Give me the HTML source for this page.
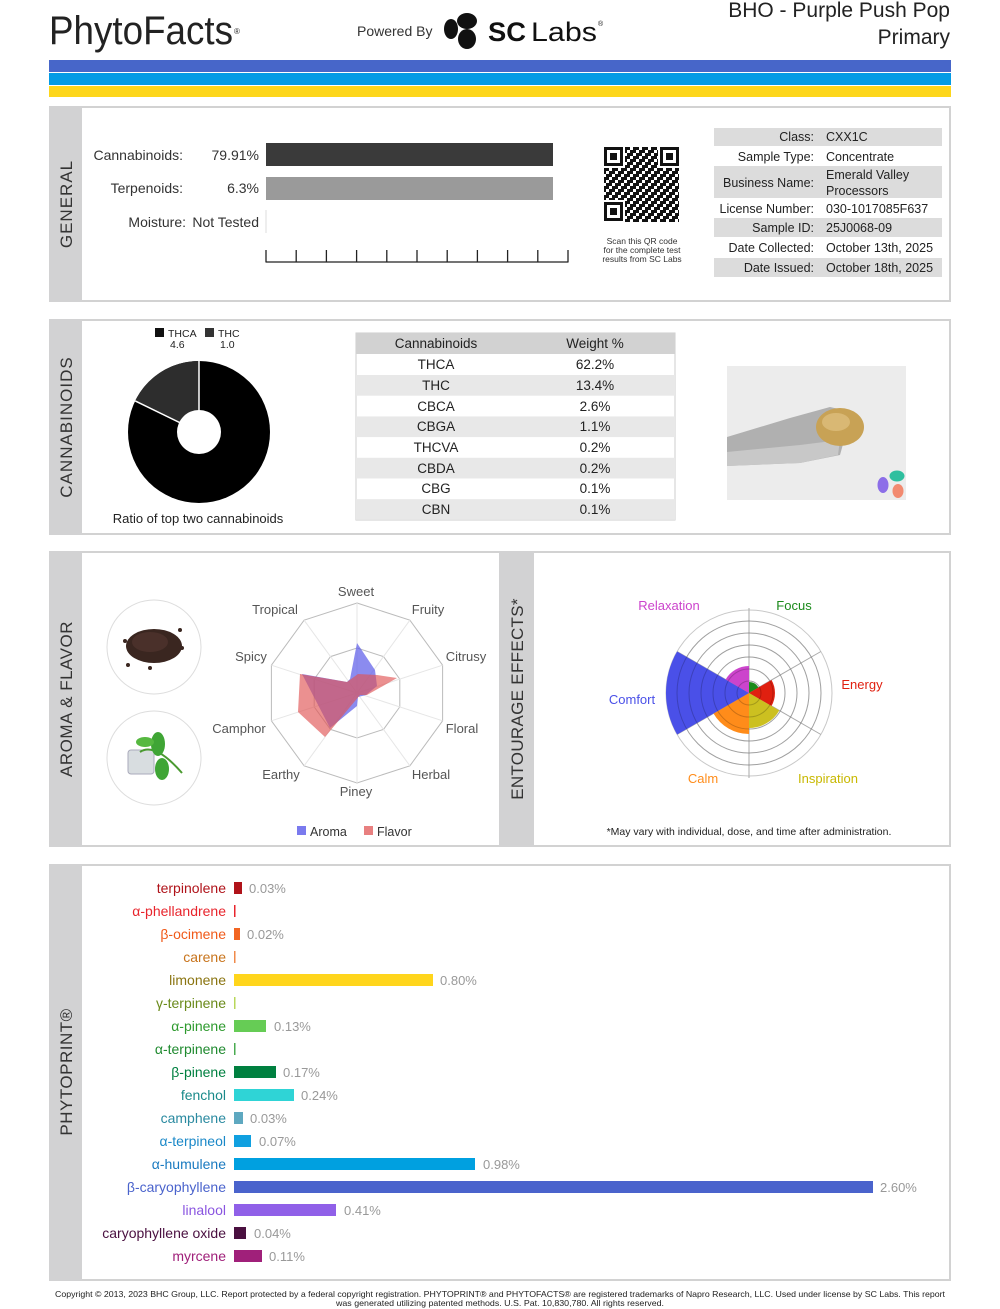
<!DOCTYPE html>
<html><head><meta charset="utf-8"><style>
html,body{margin:0;padding:0;background:#fff;}
svg{display:block;font-family:"Liberation Sans",sans-serif;}
</style></head><body>
<svg width="1000" height="1309" viewBox="0 0 1000 1309" xmlns="http://www.w3.org/2000/svg">
<defs>
<pattern id="qr" width="9" height="9" patternUnits="userSpaceOnUse">
<rect x="0" y="0" width="3" height="3" fill="#111"/><rect x="6" y="0" width="3" height="6" fill="#111"/>
<rect x="3" y="3" width="3" height="3" fill="#111"/><rect x="0" y="6" width="6" height="3" fill="#111"/>
</pattern>
</defs>
<!-- Header -->
<text x="49" y="44" font-size="40" fill="#222" textLength="184" lengthAdjust="spacingAndGlyphs">PhytoFacts</text>
<text x="234" y="34" font-size="8" fill="#222">®</text>
<text x="357" y="36" font-size="14" fill="#333">Powered By</text>
<ellipse cx="467" cy="21" rx="10" ry="8" fill="#111"/>
<ellipse cx="451" cy="29" rx="7" ry="10" fill="#111"/>
<ellipse cx="467" cy="39" rx="9" ry="10" fill="#111"/>
<text x="488" y="41" font-size="27" font-weight="bold" fill="#111" textLength="38" lengthAdjust="spacingAndGlyphs">SC</text>
<text x="531" y="41" font-size="27" fill="#111" textLength="66" lengthAdjust="spacingAndGlyphs">Labs</text>
<text x="598" y="26" font-size="7" fill="#111">®</text>
<text x="950" y="17" font-size="21" fill="#222" text-anchor="end">BHO - Purple Push Pop</text>
<text x="950" y="44" font-size="21" fill="#222" text-anchor="end">Primary</text>
<rect x="49" y="60" width="902" height="12" fill="#4766c9"/>
<rect x="49" y="73" width="902" height="12" fill="#039be5"/>
<rect x="49" y="86" width="902" height="11" fill="#fdd61b"/>

<!-- Section frames -->
<g fill="#fff" stroke="#d2d2d2" stroke-width="2">
<rect x="50" y="107" width="900" height="194"/>
<rect x="50" y="320" width="900" height="214"/>
<rect x="50" y="552" width="900" height="294"/>
<rect x="50" y="865" width="900" height="415"/>
</g>
<g fill="#d2d2d3">
<rect x="49" y="106" width="33" height="196"/>
<rect x="49" y="319" width="33" height="216"/>
<rect x="49" y="551" width="33" height="296"/>
<rect x="499" y="551" width="35" height="296"/>
<rect x="49" y="864" width="33" height="417"/>
</g>
<g font-size="17" fill="#333" text-anchor="middle">
<text transform="translate(72,204) rotate(-90)" letter-spacing="1">GENERAL</text>
<text transform="translate(72,427) rotate(-90)" letter-spacing="1">CANNABINOIDS</text>
<text transform="translate(72,699) rotate(-90)" letter-spacing="0.5">AROMA &amp; FLAVOR</text>
<text transform="translate(523,699) rotate(-90)" letter-spacing="0.3">ENTOURAGE EFFECTS*</text>
<text transform="translate(72,1072) rotate(-90)" letter-spacing="0.5">PHYTOPRINT®</text>
</g>

<!-- General -->
<g font-size="14" fill="#333" text-anchor="end">
<text x="183" y="160">Cannabinoids:</text><text x="259" y="160">79.91%</text>
<text x="183" y="193">Terpenoids:</text><text x="259" y="193">6.3%</text>
<text x="186" y="227">Moisture:</text><text x="259" y="227">Not Tested</text>
</g>
<rect x="266" y="143" width="287" height="23" fill="#3a3a3a"/>
<rect x="266" y="177" width="287" height="23" fill="#9a9a9a"/>
<line x1="266" y1="210" x2="266" y2="233" stroke="#ddd"/>
<g stroke="#222" stroke-width="1.3">
<line x1="265.5" y1="262" x2="568.5" y2="262"/>
<line x1="266" y1="250" x2="266" y2="262"/><line x1="296.2" y1="250" x2="296.2" y2="262"/>
<line x1="326.4" y1="250" x2="326.4" y2="262"/><line x1="356.6" y1="250" x2="356.6" y2="262"/>
<line x1="386.8" y1="250" x2="386.8" y2="262"/><line x1="417" y1="250" x2="417" y2="262"/>
<line x1="447.2" y1="250" x2="447.2" y2="262"/><line x1="477.4" y1="250" x2="477.4" y2="262"/>
<line x1="507.6" y1="250" x2="507.6" y2="262"/><line x1="537.8" y1="250" x2="537.8" y2="262"/>
<line x1="568" y1="250" x2="568" y2="262"/>
</g>
<!-- QR -->
<rect x="604" y="147" width="75" height="75" fill="url(#qr)"/>
<g fill="#fff"><rect x="603" y="146" width="22" height="22"/><rect x="658" y="146" width="22" height="22"/><rect x="603" y="200" width="22" height="22"/></g>
<g fill="none" stroke="#111" stroke-width="3">
<rect x="605.5" y="148.5" width="16" height="16"/><rect x="661.5" y="148.5" width="16" height="16"/><rect x="605.5" y="203.5" width="16" height="16"/>
</g>
<g fill="#111"><rect x="610" y="153" width="7" height="7"/><rect x="666" y="153" width="7" height="7"/><rect x="610" y="208" width="7" height="7"/></g>
<g font-size="8.5" fill="#333" text-anchor="middle">
<text x="642" y="244">Scan this QR code</text>
<text x="642" y="253">for the complete test</text>
<text x="642" y="262">results from SC Labs</text>
</g>
<!-- info table -->
<g fill="#dcdcdc">
<rect x="714" y="128" width="228" height="18"/><rect x="714" y="166" width="228" height="32"/>
<rect x="714" y="218" width="228" height="19"/><rect x="714" y="258" width="228" height="19"/>
</g>
<g font-size="12.5" fill="#222">
<g text-anchor="end">
<text x="814" y="141">Class:</text><text x="814" y="161">Sample Type:</text>
<text x="814" y="187">Business Name:</text><text x="814" y="213">License Number:</text>
<text x="814" y="232">Sample ID:</text><text x="814" y="252">Date Collected:</text>
<text x="814" y="272">Date Issued:</text>
</g>
<text x="826" y="141">CXX1C</text><text x="826" y="161">Concentrate</text>
<text x="826" y="179">Emerald Valley</text><text x="826" y="195">Processors</text>
<text x="826" y="213">030-1017085F637</text><text x="826" y="232">25J0068-09</text>
<text x="826" y="252">October 13th, 2025</text><text x="826" y="272">October 18th, 2025</text>
</g>

<!-- Cannabinoids -->
<rect x="155" y="328" width="9" height="9" fill="#111"/>
<rect x="205" y="328" width="9" height="9" fill="#333"/>
<g font-size="10.5" fill="#222">
<text x="168" y="337">THCA</text><text x="218" y="337">THC</text>
<text x="170" y="348">4.6</text><text x="220" y="348">1.0</text>
</g>
<circle cx="199" cy="432" r="71" fill="#000"/>
<path d="M199,432 L199,361 A71,71 0 0,0 135.2,400.9 Z" fill="#2d2d2d"/>
<line x1="199" y1="432" x2="199" y2="361" stroke="#fff" stroke-width="1.5"/>
<line x1="199" y1="432" x2="135.2" y2="400.9" stroke="#fff" stroke-width="1.5"/>
<circle cx="199" cy="432" r="22" fill="#fff"/>
<text x="198" y="523" font-size="13" fill="#222" text-anchor="middle">Ratio of top two cannabinoids</text>

<rect x="356" y="333" width="319" height="187" fill="#fff" stroke="#ccc"/>
<rect x="356" y="333" width="319" height="21" fill="#d2d2d2"/>
<g fill="#e8e8e8">
<rect x="356" y="375" width="319" height="20.7"/><rect x="356" y="416.4" width="319" height="20.7"/>
<rect x="356" y="457.8" width="319" height="20.7"/><rect x="356" y="499.2" width="319" height="20.7"/>
</g>
<g font-size="13.5" fill="#222" text-anchor="middle">
<text x="436" y="348">Cannabinoids</text><text x="595" y="348">Weight %</text>
<text x="436" y="369">THCA</text><text x="595" y="369">62.2%</text>
<text x="436" y="390">THC</text><text x="595" y="390">13.4%</text>
<text x="436" y="411">CBCA</text><text x="595" y="411">2.6%</text>
<text x="436" y="431">CBGA</text><text x="595" y="431">1.1%</text>
<text x="436" y="452">THCVA</text><text x="595" y="452">0.2%</text>
<text x="436" y="473">CBDA</text><text x="595" y="473">0.2%</text>
<text x="436" y="493">CBG</text><text x="595" y="493">0.1%</text>
<text x="436" y="514">CBN</text><text x="595" y="514">0.1%</text>
</g>
<!-- photo -->
<rect x="727" y="366" width="179" height="134" fill="#ececec"/>
<path d="M727,437 L790,418 L830,407 L852,412 L840,455 L800,463 L727,466 Z" fill="#b0b0b0"/>
<path d="M727,452 L800,445 L840,440 L838,455 L800,463 L727,466 Z" fill="#c8c8c8"/>
<ellipse cx="840" cy="427" rx="24" ry="19" fill="#c8a255"/>
<ellipse cx="836" cy="422" rx="14" ry="9" fill="#d9b874"/>
<ellipse cx="883" cy="485" rx="5.5" ry="8" fill="#8c6ee8"/>
<ellipse cx="897" cy="476" rx="7.5" ry="5.5" fill="#2fbf9f"/>
<ellipse cx="898" cy="491" rx="5.5" ry="7" fill="#f28a70"/>

<!-- Aroma images -->
<circle cx="154" cy="647" r="47" fill="#fff" stroke="#ddd"/>
<circle cx="154" cy="758" r="47" fill="#fff" stroke="#ddd"/>
<ellipse cx="154" cy="646" rx="28" ry="17" fill="#3a2620"/>
<ellipse cx="150" cy="642" rx="18" ry="10" fill="#4a302a"/>
<g fill="#3a2620"><circle cx="125" cy="641" r="2"/><circle cx="182" cy="648" r="2"/><circle cx="128" cy="665" r="2"/><circle cx="180" cy="630" r="2"/><circle cx="150" cy="668" r="2"/></g>
<rect x="128" y="750" width="26" height="24" rx="3" fill="#d8dde0" stroke="#aab" />
<path d="M140,752 Q155,742 182,773" stroke="#4a9a30" stroke-width="2" fill="none"/>
<ellipse cx="158" cy="744" rx="7" ry="12" fill="#3fa535"/>
<ellipse cx="162" cy="769" rx="7" ry="11" fill="#3fa535"/>
<ellipse cx="145" cy="742" rx="9" ry="5" fill="#56b840"/>

<!-- Radar -->
<g fill="none" stroke="#bbb" stroke-width="1">
<polygon points="357,603 409.9,620.2 442.6,665.2 442.6,720.8 409.9,765.8 357,783 304.1,765.8 271.4,720.8 271.4,665.2 304.1,620.2"/>
<polygon points="357,648 383.5,656.6 399.8,679.1 399.8,706.9 383.5,729.4 357,738 330.5,729.4 314.2,706.9 314.2,679.1 330.5,656.6"/>
</g>
<g stroke="#e6e6e6" stroke-width="1">
<line x1="357" y1="693" x2="357" y2="603"/><line x1="357" y1="693" x2="409.9" y2="620.2"/>
<line x1="357" y1="693" x2="442.6" y2="665.2"/><line x1="357" y1="693" x2="442.6" y2="720.8"/>
<line x1="357" y1="693" x2="409.9" y2="765.8"/><line x1="357" y1="693" x2="357" y2="783"/>
<line x1="357" y1="693" x2="304.1" y2="765.8"/><line x1="357" y1="693" x2="271.4" y2="720.8"/>
<line x1="357" y1="693" x2="271.4" y2="665.2"/><line x1="357" y1="693" x2="304.1" y2="620.2"/>
</g>
<polygon points="357,643 375,670 377,686 366,695 358,697 357,706 330,728 302,674 347,682 350,679" fill="#5a5ae8" fill-opacity="0.7"/>
<polygon points="300,674 298,712 325,737 360,695 367,695 397,678 377,675 358,674 347,682" fill="#e05555" fill-opacity="0.65"/>
<g font-size="13" fill="#555" text-anchor="middle">
<text x="356" y="596">Sweet</text><text x="275" y="614">Tropical</text><text x="428" y="614">Fruity</text>
<text x="251" y="661">Spicy</text><text x="466" y="661">Citrusy</text>
<text x="239" y="733">Camphor</text><text x="462" y="733">Floral</text>
<text x="281" y="779">Earthy</text><text x="431" y="779">Herbal</text>
<text x="356" y="796">Piney</text>
</g>
<rect x="297" y="826" width="9" height="9" fill="#7a7aee"/>
<text x="310" y="836" font-size="12.5" fill="#333">Aroma</text>
<rect x="364" y="826" width="9" height="9" fill="#e88080"/>
<text x="377" y="836" font-size="12.5" fill="#333">Flavor</text>

<!-- Entourage -->
<g fill="none" stroke="#c8c8c8" stroke-width="1">
<circle cx="749" cy="693" r="83"/><circle cx="749" cy="693" r="72"/><circle cx="749" cy="693" r="60"/>
<circle cx="749" cy="693" r="48"/><circle cx="749" cy="693" r="36"/><circle cx="749" cy="693" r="24"/>
<circle cx="749" cy="693" r="12"/>
</g>
<g stroke="#aaa" stroke-width="1">
<line x1="749" y1="608" x2="749" y2="778"/>
<line x1="820.9" y1="651.5" x2="677.1" y2="734.5"/>
<line x1="820.9" y1="734.5" x2="677.1" y2="651.5"/>
</g>
<path d="M749,693 L749,682 A11,11 0 0,1 758.5,687.5 Z" fill="#1a8a1a"/>
<path d="M749,693 L771.5,680 A26,26 0 0,1 771.5,706 Z" fill="#e02010"/>
<path d="M749,693 L779.3,710.5 A35,35 0 0,1 749,728 Z" fill="#ccc020"/>
<path d="M749,693 L749,734 A41,41 0 0,1 713.5,713.5 Z" fill="#ff8c1a"/>
<path d="M749,693 L677.1,734.5 A83,83 0 0,1 677.1,651.5 Z" fill="#4a50e8"/>
<path d="M749,693 L725.6,679.5 A27,27 0 0,1 749,666 Z" fill="#cc44cc"/>
<g fill="none" stroke="#000" stroke-opacity="0.2" stroke-width="1">
<circle cx="749" cy="693" r="72"/><circle cx="749" cy="693" r="60"/><circle cx="749" cy="693" r="48"/>
<circle cx="749" cy="693" r="36"/><circle cx="749" cy="693" r="24"/><circle cx="749" cy="693" r="12"/>
</g>
<g font-size="13" text-anchor="middle">
<text x="669" y="610" fill="#cc44cc">Relaxation</text>
<text x="794" y="610" fill="#1a8a1a">Focus</text>
<text x="862" y="689" fill="#e02010">Energy</text>
<text x="632" y="704" fill="#4a50e8">Comfort</text>
<text x="703" y="783" fill="#ff8c1a">Calm</text>
<text x="828" y="783" fill="#c8b800">Inspiration</text>
</g>
<text x="749" y="835" font-size="10.5" fill="#222" text-anchor="middle">*May vary with individual, dose, and time after administration.</text>

<!-- Phytoprint -->
<g font-size="14" text-anchor="end">
<text x="226" y="893" fill="#b0131a">terpinolene</text>
<text x="226" y="916" fill="#e8242c">α-phellandrene</text>
<text x="226" y="939" fill="#f05a1a">β-ocimene</text>
<text x="226" y="962" fill="#c8741c">carene</text>
<text x="226" y="985" fill="#8a7410">limonene</text>
<text x="226" y="1008" fill="#6a8a1a">γ-terpinene</text>
<text x="226" y="1031" fill="#2e9a2e">α-pinene</text>
<text x="226" y="1054" fill="#1f8a2f">α-terpinene</text>
<text x="226" y="1077" fill="#008040">β-pinene</text>
<text x="226" y="1100" fill="#1a8a8a">fenchol</text>
<text x="226" y="1123" fill="#2a8aa0">camphene</text>
<text x="226" y="1146" fill="#1a88c8">α-terpineol</text>
<text x="226" y="1169" fill="#1a7ac0">α-humulene</text>
<text x="226" y="1192" fill="#4a63cc">β-caryophyllene</text>
<text x="226" y="1215" fill="#8a55e0">linalool</text>
<text x="226" y="1238" fill="#4a1040">caryophyllene oxide</text>
<text x="226" y="1261" fill="#a0207a">myrcene</text>
</g>
<rect x="234" y="882" width="8" height="12" fill="#b0131a"/>
<rect x="234" y="905" width="1.5" height="12" fill="#e8242c"/>
<rect x="234" y="928" width="6" height="12" fill="#f26522"/>
<rect x="234" y="951" width="1.5" height="12" fill="#f08a4a"/>
<rect x="234" y="974" width="199" height="12" fill="#ffd51c"/>
<rect x="234" y="997" width="1.5" height="12" fill="#b8d75a"/>
<rect x="234" y="1020" width="32" height="12" fill="#66cc55"/>
<rect x="234" y="1043" width="1.5" height="12" fill="#4aab50"/>
<rect x="234" y="1066" width="42" height="12" fill="#008040"/>
<rect x="234" y="1089" width="60" height="12" fill="#2fd4d6"/>
<rect x="234" y="1112" width="9" height="12" fill="#5ea8c0"/>
<rect x="234" y="1135" width="17" height="12" fill="#10a0e0"/>
<rect x="234" y="1158" width="241" height="12" fill="#00a0e0"/>
<rect x="234" y="1181" width="639" height="12" fill="#4a63cc"/>
<rect x="234" y="1204" width="102" height="12" fill="#9060e8"/>
<rect x="234" y="1227" width="12" height="12" fill="#4a1040"/>
<rect x="234" y="1250" width="28" height="12" fill="#a0207a"/>
<g font-size="13" fill="#999">
<text x="249" y="893">0.03%</text>
<text x="247" y="939">0.02%</text>
<text x="440" y="985">0.80%</text>
<text x="274" y="1031">0.13%</text>
<text x="283" y="1077">0.17%</text>
<text x="301" y="1100">0.24%</text>
<text x="250" y="1123">0.03%</text>
<text x="259" y="1146">0.07%</text>
<text x="483" y="1169">0.98%</text>
<text x="880" y="1192">2.60%</text>
<text x="344" y="1215">0.41%</text>
<text x="254" y="1238">0.04%</text>
<text x="269" y="1261">0.11%</text>
</g>

<!-- Footer -->
<text x="55" y="1297" font-size="8.5" fill="#222" textLength="890" lengthAdjust="spacingAndGlyphs">Copyright © 2013, 2023 BHC Group, LLC. Report protected by a federal copyright registration. PHYTOPRINT® and PHYTOFACTS® are registered trademarks of Napro Research, LLC. Used under license by SC Labs. This report</text>
<text x="500" y="1306" font-size="8.5" fill="#222" text-anchor="middle" textLength="328" lengthAdjust="spacingAndGlyphs">was generated utilizing patented methods. U.S. Pat. 10,830,780. All rights reserved.</text>
</svg>
</body></html>
